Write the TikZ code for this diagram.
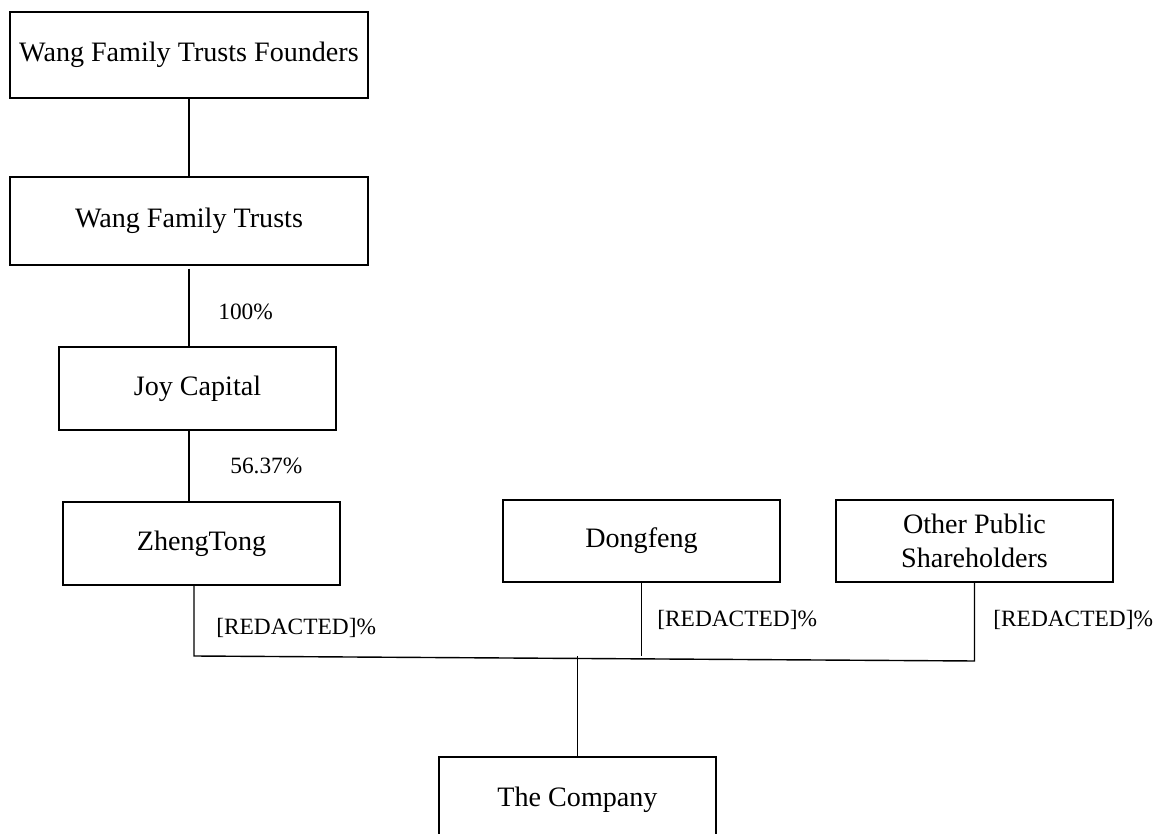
\documentclass[tikz,border=0pt]{standalone}
\usepackage{fontspec}
\setmainfont{Liberation Serif}
\usetikzlibrary{positioning}

\tikzset{
    entity/.style={draw, thick, rectangle, minimum width=277*0.02cm, minimum height=83*0.02cm,
        inner sep=0pt, align=center, font=\fontsize{16}{19}\selectfont},
    share/.style={anchor=west, inner sep=0pt, font=\fontsize{13.3}{16}\selectfont}
}

\begin{document}
\begin{tikzpicture}[x=0.02cm, y=-0.02cm]
    \useasboundingbox (0,0) rectangle (1157,834);

    % Ownership chain
    \node[entity, minimum width=358*0.02cm, minimum height=86*0.02cm] (founders) at (189,55) {Wang Family Trusts Founders};
    \node[entity, minimum width=358*0.02cm, minimum height=88*0.02cm] (trusts) at (189,221) {Wang Family Trusts};
    \node[entity] (joy) at (197.5,388.5) {Joy Capital};
    \node[entity] (zheng) at (201.5,543.5) {ZhengTong};

    % Other shareholders
    \node[entity, minimum height=82*0.02cm] (dongfeng) at (641.5,541) {Dongfeng};
    \node[entity, minimum height=82*0.02cm] (public) at (974.5,541) {Other Public\\Shareholders};

    % Company
    \node[entity, minimum height=86*0.02cm] (company) at (577.5,800) {The Company};

    % Bus line
    \coordinate (zbus) at (194,656);
    \coordinate (pbus) at (974.5,661);

    % Connectors
    \draw[thick] (founders.south) -- (trusts.north);
    \draw[thick] (trusts.south) ++(0,3) -- (trusts.south |- joy.north);
    \draw[thick] (joy.south -| trusts.south) -- (zheng.north -| trusts.south);
    \draw[thick] (zheng.south -| zbus) -- (zbus) -- (pbus) -- (public.south);
    \draw[thick] (dongfeng.south) -- (dongfeng.south |- zbus);
    \draw[thick] (company.north) -- (company.north |- zbus);

    % Percentages
    \node[share] (p100) at (218,312) {100\%};
    \node[share] (p5637) at (230,466) {56.37\%};
    \node[share] (pzheng) at (216,628) {[REDACTED]\%};
    \node[share] (pdong) at (657,620) {[REDACTED]\%};
    \node[share] (ppublic) at (993,620) {[REDACTED]\%};
\end{tikzpicture}
\end{document}
